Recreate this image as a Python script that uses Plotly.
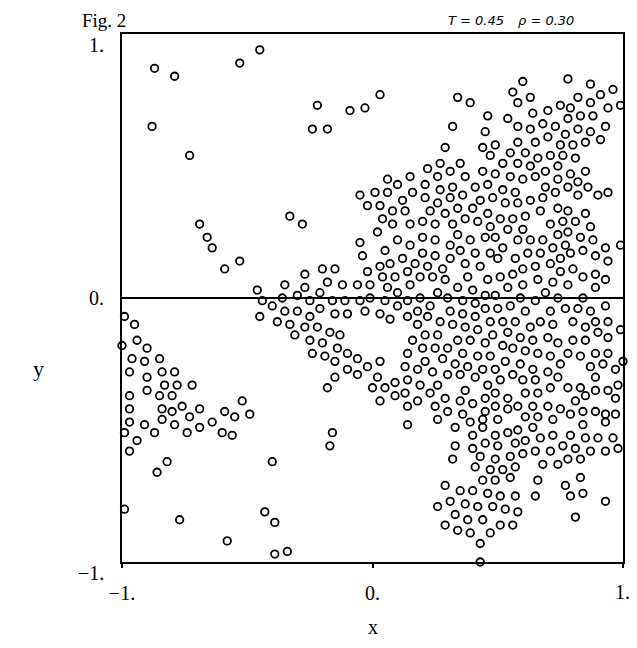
import plotly.graph_objects as go

# Particle positions (x, y), grouped by region
top_left = [(-0.87, 0.87), (-0.79, 0.84), (-0.53, 0.89), (-0.45, 0.94), (-0.88, 0.65), (-0.73, 0.54)]

top_mid = [(-0.22, 0.73), (-0.24, 0.64), (-0.18, 0.64), (-0.09, 0.71), (-0.03, 0.72), (0.03, 0.77),
           (0.32, 0.65), (0.29, 0.57)]

top_right = [(0.60, 0.82), (0.78, 0.83), (0.87, 0.81), (0.56, 0.78), (0.34, 0.76), (0.39, 0.74), (0.58, 0.74),
             (0.63, 0.76), (0.82, 0.76), (0.91, 0.77), (0.96, 0.79), (0.87, 0.74), (0.94, 0.72), (0.99, 0.73),
             (0.64, 0.70), (0.70, 0.71), (0.75, 0.73), (0.79, 0.72), (0.46, 0.69), (0.54, 0.68), (0.83, 0.69),
             (0.88, 0.69), (0.68, 0.66), (0.73, 0.65), (0.78, 0.68), (0.45, 0.63), (0.58, 0.65), (0.63, 0.64),
             (0.82, 0.64), (0.87, 0.63), (0.93, 0.65), (0.70, 0.61), (0.77, 0.62), (0.58, 0.59), (0.65, 0.59),
             (0.49, 0.58), (0.44, 0.57), (0.75, 0.58), (0.80, 0.58), (0.85, 0.59), (0.91, 0.60), (0.47, 0.54),
             (0.55, 0.55), (0.61, 0.55), (0.66, 0.53), (0.71, 0.54), (0.76, 0.54), (0.81, 0.53)]

mid_left_upper = [(-0.69, 0.28), (-0.66, 0.23), (-0.64, 0.19), (-0.53, 0.14), (-0.59, 0.11), (-0.46, 0.03),
                  (-0.35, 0.05)]

mid_center_upper = [(0.27, 0.51), (0.22, 0.49), (0.31, 0.48), (0.06, 0.45), (0.15, 0.46), (0.26, 0.46),
                    (0.10, 0.43), (0.21, 0.43), (0.32, 0.42), (-0.05, 0.39), (0.01, 0.40), (0.06, 0.40),
                    (0.16, 0.40), (0.27, 0.41), (0.12, 0.37), (0.21, 0.38), (0.31, 0.38), (-0.02, 0.35),
                    (0.03, 0.35), (0.08, 0.33), (0.13, 0.33), (0.23, 0.33), (0.26, 0.36), (0.29, 0.32),
                    (-0.33, 0.31), (-0.28, 0.28), (0.04, 0.30), (0.02, 0.25), (0.08, 0.28), (0.15, 0.28),
                    (0.20, 0.29), (0.25, 0.28), (0.32, 0.28), (-0.05, 0.21), (0.10, 0.22), (0.15, 0.20),
                    (0.20, 0.23), (0.25, 0.22), (0.31, 0.20), (-0.04, 0.16), (0.05, 0.18), (0.12, 0.15),
                    (0.20, 0.17), (0.25, 0.16), (0.31, 0.15), (0.03, 0.12), (0.07, 0.13), (0.17, 0.13),
                    (0.22, 0.12), (0.28, 0.11), (-0.02, 0.10), (0.04, 0.08), (0.09, 0.08), (0.14, 0.10),
                    (0.19, 0.08), (0.24, 0.08), (0.29, 0.07), (-0.27, 0.09), (-0.20, 0.11), (-0.15, 0.11),
                    (-0.27, 0.04), (-0.18, 0.06), (-0.12, 0.05), (-0.06, 0.05), (-0.01, 0.05), (0.06, 0.04),
                    (0.15, 0.05)]

mid_right_upper = [(0.35, 0.51), (0.52, 0.51), (0.58, 0.51), (0.63, 0.50), (0.74, 0.50), (0.37, 0.46),
                   (0.44, 0.48), (0.49, 0.47), (0.55, 0.46), (0.60, 0.45), (0.65, 0.46), (0.69, 0.48),
                   (0.79, 0.47), (0.85, 0.48), (0.74, 0.45), (0.82, 0.44), (0.41, 0.42), (0.46, 0.43),
                   (0.52, 0.41), (0.57, 0.40), (0.69, 0.42), (0.78, 0.42), (0.86, 0.42), (0.94, 0.40),
                   (0.90, 0.39), (0.82, 0.39), (0.73, 0.40), (0.36, 0.39), (0.43, 0.37), (0.48, 0.38),
                   (0.53, 0.36), (0.58, 0.36), (0.63, 0.37), (0.68, 0.38), (0.34, 0.34), (0.40, 0.34),
                   (0.46, 0.32), (0.67, 0.33), (0.74, 0.34), (0.78, 0.33), (0.85, 0.32), (0.37, 0.30),
                   (0.42, 0.29), (0.47, 0.27), (0.51, 0.30), (0.56, 0.30), (0.61, 0.31), (0.71, 0.28),
                   (0.76, 0.29), (0.81, 0.29), (0.87, 0.27), (0.34, 0.24), (0.39, 0.22), (0.45, 0.23),
                   (0.49, 0.23), (0.54, 0.26), (0.60, 0.26), (0.58, 0.22), (0.63, 0.22), (0.68, 0.22),
                   (0.74, 0.24), (0.78, 0.25), (0.83, 0.23), (0.88, 0.22), (0.93, 0.19), (0.99, 0.20),
                   (0.35, 0.18), (0.41, 0.17), (0.47, 0.17), (0.52, 0.19), (0.57, 0.15), (0.62, 0.17),
                   (0.67, 0.17), (0.72, 0.19), (0.77, 0.20), (0.79, 0.17), (0.84, 0.18), (0.89, 0.16),
                   (0.94, 0.14), (0.37, 0.13), (0.43, 0.12), (0.50, 0.15), (0.60, 0.11), (0.65, 0.12),
                   (0.71, 0.13), (0.75, 0.15), (0.75, 0.10), (0.80, 0.11), (0.89, 0.09), (0.93, 0.07),
                   (0.38, 0.08), (0.46, 0.07), (0.51, 0.08), (0.56, 0.09), (0.60, 0.05), (0.66, 0.07),
                   (0.72, 0.06), (0.78, 0.05), (0.84, 0.08), (0.89, 0.04), (0.34, 0.04), (0.40, 0.03),
                   (0.54, 0.04)]

mid_left_lower = [(-0.44, -0.01), (-0.40, -0.03), (-0.36, 0.00), (-0.35, -0.05), (-0.45, -0.07), (-0.38, -0.09),
                  (-0.99, -0.07), (-0.95, -0.10), (-0.94, -0.16), (-1.00, -0.18), (-0.90, -0.19), (-0.96, -0.23),
                  (-0.91, -0.24), (-0.85, -0.23), (-0.97, -0.28), (-0.90, -0.30), (-0.84, -0.28), (-0.79, -0.28),
                  (-0.83, -0.33), (-0.78, -0.33), (-0.72, -0.33), (-0.90, -0.35), (-0.97, -0.37), (-0.85, -0.37),
                  (-0.80, -0.37), (-0.97, -0.42), (-0.84, -0.42), (-0.76, -0.41), (-0.80, -0.43), (-0.69, -0.42),
                  (-0.52, -0.39), (-0.59, -0.43), (-0.55, -0.45), (-0.49, -0.44), (-0.97, -0.47), (-0.91, -0.48),
                  (-0.84, -0.46), (-0.79, -0.48), (-0.73, -0.45), (-0.69, -0.49), (-0.64, -0.47)]

mid_center_lower = [(-0.30, 0.01), (-0.25, -0.01), (-0.21, 0.02), (-0.16, -0.01), (-0.11, -0.01), (-0.05, -0.01),
                    (-0.01, 0.00), (0.05, -0.01), (0.10, 0.02), (0.14, -0.01), (0.19, 0.00), (0.26, 0.02),
                    (0.30, 0.00), (-0.30, -0.05), (-0.25, -0.07), (-0.21, -0.04), (-0.15, -0.06), (-0.10, -0.06),
                    (-0.03, -0.05), (0.03, -0.06), (0.07, -0.08), (0.10, -0.03), (0.14, -0.07), (0.18, -0.05),
                    (0.23, -0.03), (0.22, -0.07), (0.27, -0.09), (0.31, -0.05), (-0.33, -0.10), (-0.27, -0.11),
                    (-0.22, -0.11), (-0.31, -0.14), (-0.25, -0.16), (-0.17, -0.13), (-0.13, -0.14), (-0.20, -0.17),
                    (0.18, -0.10), (0.21, -0.14), (0.26, -0.14), (0.32, -0.10), (0.16, -0.16), (-0.24, -0.21),
                    (-0.19, -0.22), (-0.14, -0.19), (-0.10, -0.21), (0.20, -0.19), (0.25, -0.19), (0.30, -0.19),
                    (0.14, -0.21), (-0.15, -0.24), (-0.10, -0.27), (-0.06, -0.23), (-0.02, -0.26), (0.03, -0.24),
                    (-0.06, -0.29), (-0.15, -0.30), (-0.18, -0.34), (0.02, -0.30), (0.13, -0.26), (0.18, -0.27),
                    (0.21, -0.24), (0.24, -0.28), (0.28, -0.23), (0.30, -0.29), (0.33, -0.25), (0.09, -0.32),
                    (0.14, -0.31), (0.19, -0.33), (0.26, -0.33), (0.00, -0.34), (0.05, -0.34), (0.09, -0.37),
                    (0.13, -0.36), (0.18, -0.39), (0.23, -0.36), (0.29, -0.38), (0.03, -0.39), (0.14, -0.41),
                    (0.25, -0.41), (0.30, -0.43), (0.26, -0.46), (0.14, -0.48)]

mid_right_lower = [(0.45, 0.01), (0.49, 0.01), (0.59, 0.00), (0.69, 0.02), (0.74, 0.00), (0.84, 0.00),
                   (0.36, -0.01), (0.41, -0.02), (0.45, -0.04), (0.50, -0.04), (0.55, -0.03), (0.61, -0.05),
                   (0.65, -0.01), (0.71, -0.05), (0.77, -0.04), (0.82, -0.04), (0.87, -0.05), (0.93, -0.03),
                   (0.36, -0.06), (0.41, -0.07), (0.47, -0.09), (0.52, -0.09), (0.57, -0.09), (0.63, -0.11),
                   (0.67, -0.09), (0.72, -0.10), (0.80, -0.09), (0.85, -0.11), (0.89, -0.09), (0.94, -0.09),
                   (0.37, -0.11), (0.42, -0.12), (0.48, -0.14), (0.54, -0.13), (0.59, -0.15), (0.64, -0.16),
                   (0.70, -0.15), (0.74, -0.17), (0.80, -0.16), (0.85, -0.16), (0.90, -0.13), (0.94, -0.15),
                   (0.99, -0.12), (0.34, -0.16), (0.39, -0.16), (0.45, -0.17), (0.36, -0.21), (0.42, -0.22),
                   (0.47, -0.22), (0.52, -0.18), (0.56, -0.19), (0.61, -0.20), (0.66, -0.21), (0.71, -0.22),
                   (0.78, -0.21), (0.83, -0.22), (0.89, -0.21), (0.94, -0.21), (0.38, -0.26), (0.44, -0.27),
                   (0.49, -0.27), (0.53, -0.24), (0.59, -0.25), (0.64, -0.27), (0.70, -0.28), (0.75, -0.25),
                   (0.87, -0.26), (0.92, -0.25), (0.97, -0.27), (1.00, -0.24), (0.35, -0.29), (0.41, -0.30),
                   (0.46, -0.33), (0.51, -0.31), (0.56, -0.29), (0.60, -0.31), (0.65, -0.31), (0.71, -0.34),
                   (0.74, -0.30), (0.78, -0.34), (0.83, -0.34), (0.89, -0.30), (0.94, -0.35), (0.98, -0.33),
                   (0.37, -0.35), (0.35, -0.39), (0.40, -0.40), (0.45, -0.38), (0.49, -0.36), (0.54, -0.38),
                   (0.61, -0.36), (0.66, -0.36), (0.81, -0.39), (0.85, -0.37), (0.89, -0.35), (0.97, -0.38),
                   (0.36, -0.44), (0.45, -0.43), (0.49, -0.41), (0.54, -0.42), (0.58, -0.41), (0.64, -0.41),
                   (0.70, -0.41), (0.75, -0.42), (0.79, -0.44), (0.84, -0.43), (0.89, -0.43), (0.93, -0.44),
                   (0.97, -0.44), (0.39, -0.47), (0.44, -0.46), (0.50, -0.46), (0.61, -0.45), (0.66, -0.45),
                   (0.72, -0.46), (0.93, -0.47)]

bottom_left = [(-0.99, -0.51), (-0.94, -0.54), (-0.97, -0.58), (-0.87, -0.51), (-0.74, -0.51), (-0.60, -0.51),
               (-0.56, -0.52), (-0.86, -0.66), (-0.82, -0.62), (-0.40, -0.62), (-0.99, -0.80), (-0.77, -0.84),
               (-0.43, -0.81), (-0.39, -0.85), (-0.58, -0.92), (-0.39, -0.97)]

bottom_mid = [(-0.16, -0.51), (-0.17, -0.56), (0.33, -0.49), (0.33, -0.56), (0.32, -0.61), (0.29, -0.71),
              (0.31, -0.77), (0.26, -0.79), (0.33, -0.82), (0.29, -0.86), (-0.34, -0.96)]

bottom_right = [(0.44, -0.49), (0.64, -0.49), (0.84, -0.48), (0.40, -0.52), (0.49, -0.52), (0.54, -0.51),
                (0.58, -0.50), (0.67, -0.53), (0.72, -0.52), (0.79, -0.52), (0.85, -0.53), (0.90, -0.53),
                (0.96, -0.53), (0.98, -0.57), (0.40, -0.57), (0.45, -0.55), (0.50, -0.56), (0.57, -0.55),
                (0.61, -0.54), (0.65, -0.58), (0.71, -0.58), (0.76, -0.56), (0.81, -0.57), (0.87, -0.58),
                (0.93, -0.58), (0.43, -0.60), (0.49, -0.61), (0.55, -0.60), (0.60, -0.59), (0.68, -0.63),
                (0.74, -0.63), (0.78, -0.61), (0.83, -0.61), (0.41, -0.64), (0.47, -0.65), (0.52, -0.65),
                (0.57, -0.64), (0.44, -0.69), (0.49, -0.69), (0.55, -0.68), (0.66, -0.69), (0.77, -0.71),
                (0.83, -0.68), (0.35, -0.73), (0.40, -0.73), (0.46, -0.74), (0.51, -0.75), (0.57, -0.75),
                (0.65, -0.75), (0.79, -0.75), (0.84, -0.74), (0.93, -0.77), (0.37, -0.78), (0.42, -0.79),
                (0.48, -0.79), (0.53, -0.80), (0.58, -0.81), (0.38, -0.84), (0.44, -0.84), (0.51, -0.86),
                (0.56, -0.86), (0.81, -0.83), (0.34, -0.88), (0.39, -0.89), (0.47, -0.89), (0.43, -0.93),
                (0.43, -1.00)]

regions = [top_left, top_mid, top_right, mid_left_upper, mid_center_upper, mid_right_upper,
           mid_left_lower, mid_center_lower, mid_right_lower, bottom_left, bottom_mid, bottom_right]

tick_vals = [-1, 0, 1]
tick_text = ["\u22121.", "0.", "1."]

xs = [p[0] for r in regions for p in r]
ys = [p[1] for r in regions for p in r]

SERIF = "Liberation Serif, Times New Roman, serif"

fig = go.Figure()
fig.add_trace(go.Scatter(
    x=xs, y=ys, mode="markers", cliponaxis=False, showlegend=False,
    marker=dict(symbol="circle-open", size=7.5, color="black", line=dict(width=1.8, color="black")),
))

# the page body adds an 8px margin on every side, so the figure is 621x632
fig.update_layout(
    width=621, height=632,
    margin=dict(l=114, r=4, t=26, b=78),
    paper_bgcolor="white", plot_bgcolor="white",
    font=dict(family=SERIF, size=20, color="black"),
)
fig.update_xaxes(
    range=[-1, 1], tickvals=tick_vals, ticktext=[tick_text[0], tick_text[1], ""],
    showgrid=False, zeroline=False, showline=True, linecolor="black", linewidth=2, mirror=True,
    ticks="outside", ticklen=4, tickwidth=1.5, tickcolor="black", ticklabelstandoff=8,
    tickfont=dict(family=SERIF, size=20, color="black"),
)
fig.update_yaxes(
    range=[-1, 1], tickvals=tick_vals, ticktext=["", "", ""],
    showgrid=False, zeroline=True, zerolinecolor="black", zerolinewidth=1.5,
    showline=True, linecolor="black", linewidth=2, mirror=True, ticks="",
)

# last x tick label, kept inside the page edge
fig.add_annotation(x=tick_vals[2], xref="x", y=-0.0568, yref="paper", text=tick_text[2], showarrow=False,
                   xanchor="right", yanchor="middle", xshift=9,
                   font=dict(family=SERIF, size=20, color="black"))

# y tick labels (end labels sit slightly below their ticks as in the original)
for v, t, shift in zip(tick_vals, tick_text, [-11, 0, -11]):
    fig.add_annotation(x=0, xref="paper", y=v, yref="y", text=t, showarrow=False,
                       xanchor="right", yanchor="middle", xshift=-16, yshift=shift,
                       font=dict(family=SERIF, size=20, color="black"))

fig.add_annotation(x=0.5, xref="paper", y=-0.123, yref="paper", text="x", showarrow=False,
                   xanchor="center", yanchor="middle",
                   font=dict(family=SERIF, size=20, color="black"))
fig.add_annotation(x=-0.167, xref="paper", y=0.367, yref="paper", text="y", showarrow=False,
                   xanchor="center", yanchor="middle",
                   font=dict(family=SERIF, size=22, color="black"))
fig.add_annotation(x=-0.0835, xref="paper", xanchor="left", y=1.0265, yref="paper", yanchor="middle",
                   text="Fig. 2", showarrow=False, font=dict(family=SERIF, size=19, color="black"))
fig.add_annotation(x=0.706, xref="paper", y=1.0265, yref="paper", text="<i>T = 0.45</i>",
                   xanchor="center", yanchor="middle", showarrow=False,
                   font=dict(family="DejaVu Sans, sans-serif", size=13, color="black"))
fig.add_annotation(x=0.847, xref="paper", y=1.0265, yref="paper", text="<i>\u03c1 = 0.30</i>",
                   xanchor="center", yanchor="middle", showarrow=False,
                   font=dict(family="DejaVu Sans, sans-serif", size=13, color="black"))

fig.write_html("out.html")
